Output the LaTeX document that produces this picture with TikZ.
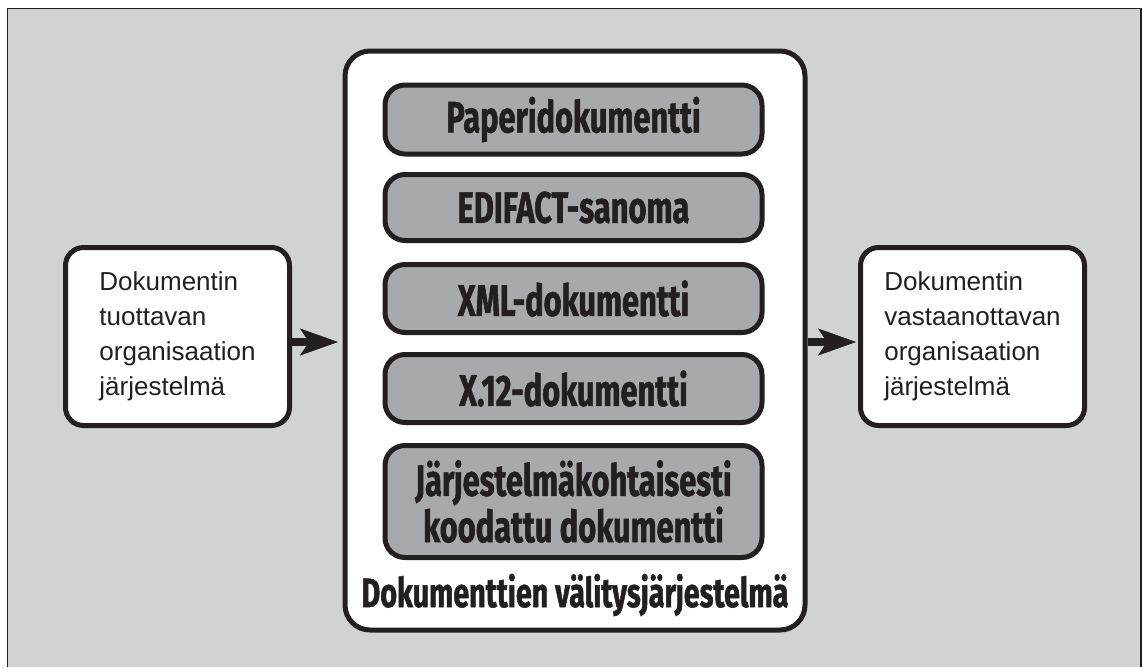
\documentclass[tikz,border=0pt]{standalone}
\usepackage{fontspec}
\setmainfont{Liberation Sans}
\newfontfamily\dispfont{Fira Sans}[FakeStretch=0.7, BoldFeatures={FakeBold=1.2}]
\usetikzlibrary{arrows.meta}

\definecolor{panel}{HTML}{D1D2D4}
\definecolor{ink}{HTML}{231F20}
\definecolor{docgray}{HTML}{A7A9AC}

\tikzset{
  sysbox/.style={draw=ink, line width=5pt, fill=white, rounded corners=18pt,
    minimum width=224pt, minimum height=178pt, align=left, text=ink,
    inner sep=0pt, font=\fontsize{26}{35}\selectfont},
  hub/.style={draw=ink, line width=5pt, fill=white, rounded corners=25pt,
    minimum width=460pt, minimum height=579pt},
  docbox/.style={draw=ink, line width=5pt, fill=docgray, rounded corners=20pt,
    minimum width=377pt, align=center, text=ink, inner sep=0pt,
    font=\dispfont\bfseries\fontsize{44}{35}\selectfont},
  hublabel/.style={text=ink, font=\dispfont\bfseries\fontsize{41}{34}\selectfont},
  flow/.style={draw=ink, line width=7.5pt,
    -{Stealth[length=38pt, width=27pt, inset=9pt, line width=0.5pt]}}
}

\begin{document}
\begin{tikzpicture}[x=1pt, y=-1pt]
  % page and grey panel
  \useasboundingbox (0,0) rectangle (1143,667);
  \fill[white] (0,0) rectangle (1143,667);
  \fill[panel] (7.5,8.5) rectangle (1141,667);
  \draw[ink, line width=1.5pt] (7.5,667) -- (7.5,8.5) -- (1141,8.5) -- (1141,667);

  % transfer system with its document formats
  \node[hub] (hub) at (575,340.5) {};
  \node[docbox, minimum height=69pt] (paper) at (573.5,119.5) {Paperidokumentti};
  \node[docbox, minimum height=66pt] (edifact) at (573.5,207.5) {EDIFACT-sanoma};
  \node[docbox, minimum height=68pt] (xml) at (573.5,298.5) {XML-dokumentti};
  \node[docbox, minimum height=68pt] (x12) at (573.5,388.5) {X.12-dokumentti};
  \node[docbox, minimum height=112pt] (own) at (573.5,501.5)
    {Järjestelmäkohtaisesti\\koodattu dokumentti};
  \node[hublabel] (hubname) at (575,595) {Dokumenttien välitysjärjestelmä};

  % sending and receiving systems
  \node[sysbox] (sender) at (177.5,336.5)
    {Dokumentin\\tuottavan\\organisaation\\järjestelmä};
  \node[sysbox] (receiver) at (972.5,336.5)
    {Dokumentin\\vastaanottavan\\organisaation\\järjestelmä};

  % flow arrows
  \draw[flow, shorten >=4.5pt] ([yshift=-5.5pt]sender.east) coordinate (sa)
    -- (sa -| hub.west);
  \draw[flow, shorten >=2pt] ([yshift=-1.5pt]hub.east) coordinate (ha)
    -- (ha -| receiver.west);
\end{tikzpicture}
\end{document}
